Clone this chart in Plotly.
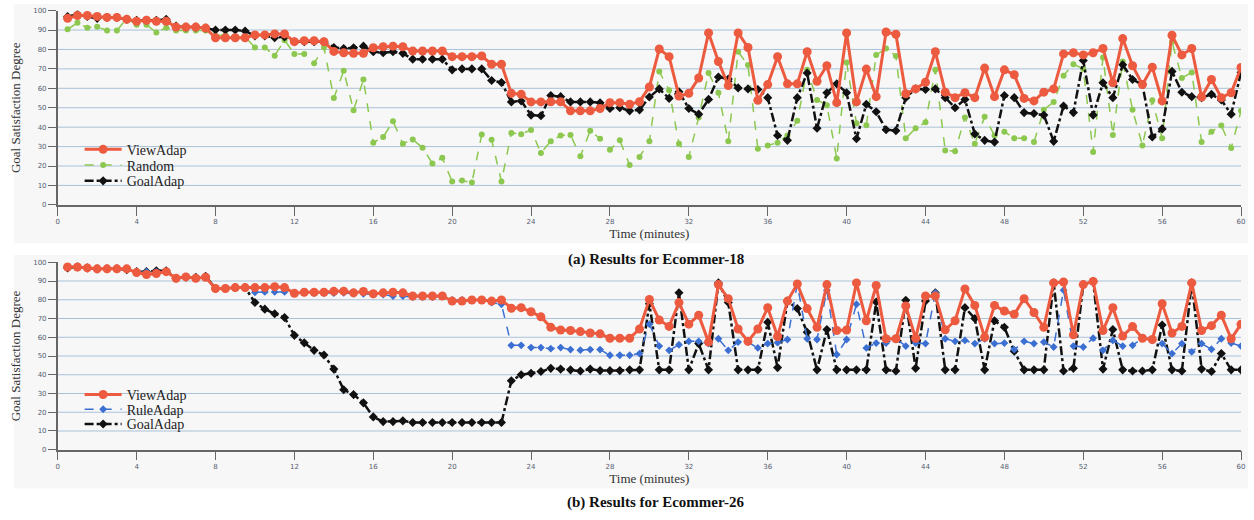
import plotly.graph_objects as go

# sample times (minutes)
time = [0.5 * k for k in range(1, 121)]

# (a) Ecommer-18
view18 = [96, 97.5, 97.5, 97, 96.5, 96.5, 95.5, 94.5, 95, 94.5,
          94.5, 91.5, 91.5, 91.5, 91, 86, 86, 86, 86, 87.5,
          87.5, 88, 88, 84, 84.5, 84.5, 84, 79, 78.3, 78,
          78, 80.9, 81.4, 81.7, 81.4, 79.2, 79.2, 79.2, 79.2, 76.3,
          76.3, 76.3, 76.6, 72.4, 72.4, 57.4, 56.9, 53, 53, 53.1,
          53.1, 48.4, 48.4, 48.4, 49.6, 52.6, 52.6, 51.8, 53.1, 60.7,
          80.2, 76.3, 56, 57.4, 65.3, 88.5, 73.8, 61.4, 88.5, 81,
          53.8, 61.9, 76.3, 62.3, 62.3, 78.8, 63.6, 71.6, 52.6, 88.5,
          53, 69.9, 55.7, 89, 87.8, 57.2, 59.7, 63.1, 78.8, 58,
          55.2, 57.7, 55.2, 70.4, 55.7, 69.5, 67, 54.8, 53.5, 58,
          59.7, 77.7, 78.3, 77.2, 78.3, 80.5, 62.8, 85.6, 71.6, 61.9,
          70.9, 53.5, 87.3, 77.2, 80.5, 55.5, 64.5, 55.2, 57.7, 70.7]
random18 = [90.4, 93.7, 91.2, 91.7, 89.8, 89.8, 95.8, 92.7, 92.7, 88.7,
            91.2, 89.8, 89.8, 89.8, 89.8, 87, 87.5, 86.6, 86.5, 81,
            81, 76.8, 84.8, 77.7, 77.7, 72.9, 81, 55, 69, 48.7,
            64.5, 32, 34.9, 43, 31.5, 33.7, 29.4, 21.3, 24.2, 12,
            12.5, 11.5, 36.2, 33.5, 12, 37, 36.4, 38.6, 26.7, 32.8,
            35.7, 36, 25, 38.2, 34, 28.4, 33.2, 20.5, 24.7, 32.7,
            68.7, 59, 31.5, 24.7, 45, 67.9, 57.7, 32.7, 78.8, 72,
            28.9, 30.6, 32, 35.7, 43.3, 69.5, 54, 51.3, 23.9, 73.3,
            42, 41, 77.2, 80.5, 76.6, 34.3, 39.4, 42.5, 69.5, 28,
            27.6, 45, 31.5, 45.3, 35.7, 37.7, 34.3, 34.3, 32.3, 48.9,
            53, 66.5, 72.4, 70, 27.2, 75.8, 36, 73.8, 48.9, 30.6,
            53.8, 34.3, 83.9, 65.3, 68.2, 32.3, 37.7, 40.8, 29.3, 48.4]
goal18 = [97, 98, 97, 96, 96.5, 96.5, 95.5, 95, 95, 95,
          95.5, 92, 91.5, 91.5, 91, 90, 90, 90, 89.5, 87,
          87, 86, 86.5, 84, 84, 84, 84, 81, 80.5, 80.9,
          81.7, 78.8, 78.3, 78.8, 78, 75, 75, 75, 75, 69.5,
          70, 70, 70, 64, 63, 53, 53.5, 46.2, 45.9, 56.3,
          55.7, 53, 53, 53, 52.6, 49.6, 50, 48.4, 48.9, 55.5,
          59.7, 54.8, 58.2, 49.6, 46.7, 54.3, 65.8, 64.8, 60.2, 59.7,
          59.4, 55.2, 35.7, 33.2, 55.2, 67.9, 39.4, 57.7, 62.3, 57.7,
          34, 51.8, 47.9, 38.7, 38.2, 55.2, 59.7, 59.4, 59.7, 55.2,
          50, 54.3, 36.5, 33.2, 32.3, 56.3, 55.2, 47.5, 47, 46.2,
          32.7, 50.9, 47.5, 74.3, 46.2, 62.8, 55.2, 72.1, 64.5, 61.9,
          34.9, 39.1, 68.7, 58, 55.7, 55.2, 56.9, 54, 46.7, 68.2]

# (b) Ecommer-26
view26 = [97.5, 97.5, 97, 96.5, 96.5, 96.5, 96.5, 94.5, 93.5, 94,
          95, 91.5, 92.2, 91.5, 92, 86, 86, 86.5, 86.5, 86.5,
          86.5, 87, 86.5, 83.5, 84, 84, 84, 84.5, 84.6, 83.7,
          84.4, 83.2, 83.7, 84, 83.7, 82, 82, 82, 82, 79.3,
          79.3, 79.9, 79.9, 79.3, 79.9, 75.5, 75.8, 73.6, 70.9, 65.3,
          63.9, 63.6, 63, 62.3, 61.8, 59.5, 59.5, 59.5, 64.4, 80.2,
          69.2, 65.8, 78.5, 67, 71.8, 57.4, 88.1, 80.6, 64.4, 57.8,
          64.4, 75.8, 60.4, 79.3, 88.4, 75.3, 65.3, 88.1, 63.6, 63.9,
          89, 68.8, 87.6, 59.2, 59.2, 76.7, 59.5, 82, 82, 64,
          68.8, 85.8, 77, 60, 77, 74, 72.3, 80.6, 73.2, 65.3,
          89, 89.5, 61.3, 88.1, 89.8, 63.6, 75.8, 60.6, 65.7, 59.5,
          58.8, 77.9, 62.3, 65.8, 89, 63.6, 66.2, 71.8, 59.2, 67]
rule26 = [97.5, 98, 97, 96, 96.5, 96.5, 96.5, 94.5, 95, 95,
          95, 91.5, 92, 92, 92, 86, 86, 86.5, 86.5, 84,
          84.2, 84.2, 84.2, 83.5, 84, 83.5, 83.5, 83.5, 83.7, 83.2,
          83.2, 82.8, 82.8, 82, 82, 81.4, 81.4, 81.4, 82, 79.9,
          79.9, 79.9, 79.9, 78.5, 77.6, 55.7, 55.7, 54.5, 54.5, 53.9,
          54.5, 53.4, 53.1, 53.4, 53.4, 50.4, 50.4, 50.4, 51.3, 67,
          55.3, 53, 56, 57.8, 57.8, 56.6, 59.2, 53, 57.4, 57.4,
          54.3, 56.6, 57.1, 58.8, 88.4, 59.2, 58.8, 85.1, 50.8, 58.8,
          77.6, 54.3, 56.9, 56.9, 59.2, 55.3, 56.9, 56.6, 83.7, 59.2,
          57.8, 58.3, 56.6, 59.2, 56.6, 56.9, 53.4, 57.8, 56.6, 57.4,
          54.8, 85.1, 55.3, 54.8, 59.5, 53, 58.3, 55.3, 55.7, 59.5,
          58.3, 56.6, 51.3, 56.6, 52.2, 56.6, 53.6, 59.2, 56.9, 55.3]
goal26 = [97, 97.5, 97, 96.5, 96.5, 96.5, 96, 95, 95, 95.5,
          95.5, 91.5, 92, 92, 92.5, 86, 86, 86.5, 86.5, 78.5,
          75, 72.5, 70.5, 61, 57, 53, 50.5, 43, 32, 29.4,
          25, 17.5, 15, 15, 15.4, 14.5, 14.5, 14.5, 14.5, 14.5,
          14.5, 14.5, 14.5, 14.5, 14.5, 36.8, 40, 40.8, 41.7, 43.4,
          43, 42.6, 42, 43, 42.2, 42.2, 42.2, 42.6, 42.6, 77.9,
          42.6, 42.6, 83.7, 42.6, 56.6, 42.6, 89, 78.5, 42.6, 42.6,
          42.6, 68, 43.8, 79.3, 75.3, 62.7, 42.6, 64.1, 42.6, 42.6,
          42.6, 42.6, 78.8, 42.6, 42, 79.7, 43.4, 79.3, 83.7, 42.6,
          42.6, 75.8, 70, 42.6, 68.8, 65.3, 52.5, 42.6, 42.6, 42.6,
          89, 42, 43.4, 88.1, 89.8, 43, 64.1, 42.6, 42, 42,
          42.6, 66.5, 42.6, 42, 89, 43, 41.7, 51.3, 42.6, 42.6]

x_ticks = list(range(0, 61, 4))
y_ticks = list(range(0, 101, 10))
grid_vals = list(range(10, 100, 10))

RED = "#ec5a3f"
GREEN = "#8cc84f"
BLUE = "#3b6fd2"
BLACK = "#111111"
SERIF = "Liberation Serif"

W, H = 1254, 520
def px_x(p): return p / W
def px_y(p): return 1 - p / H

fig = go.Figure()

def add(x, y, name, color, width, dash, symbol, size, xa, ya, legend):
    fig.add_trace(go.Scatter(
        x=x, y=y, name=name, mode="lines+markers", xaxis=xa, yaxis=ya, legend=legend,
        showlegend=True,
        line=dict(color=color, width=width, dash=dash),
        marker=dict(color=color, size=size, symbol=symbol, line=dict(width=0))))

add(time, random18, "Random", GREEN, 1.5, "dash", "circle", 6, "x", "y", "legend2")
add(time, goal18, "GoalAdap", BLACK, 2.5, "dashdot", "diamond", 7, "x", "y", "legend3")
add(time, view18, "ViewAdap", RED, 3, "solid", "circle", 9, "x", "y", "legend")

add(time, goal26, "GoalAdap", BLACK, 2.5, "dashdot", "diamond", 7, "x2", "y2", "legend6")
add(time, rule26, "RuleAdap", BLUE, 1.5, "dash", "diamond", 6, "x2", "y2", "legend5")
add(time, view26, "ViewAdap", RED, 3, "solid", "circle", 9, "x2", "y2", "legend4")

xdom = [px_x(56), px_x(1245)]
tickfont = dict(family="DejaVu Sans", size=7, color="#556070")
titlefont = dict(family=SERIF, size=13, color="#333333")

common_x = dict(range=[0, 60], tickvals=x_ticks, ticks="outside", ticklen=9, tickcolor="#666",
                showline=True, linecolor="#666", linewidth=1.5, showgrid=False, zeroline=False,
                tickfont=tickfont, domain=xdom,
                title=dict(text="Time (minutes)", font=titlefont, standoff=1))
common_y = dict(range=[0, 100], tickvals=y_ticks, ticks="outside", ticklen=8, tickcolor="#666",
                showline=True, linecolor="#666", linewidth=1.5, showgrid=False, zeroline=False,
                tickfont=tickfont,
                title=dict(text="Goal Satisfaction Degree", font=titlefont, standoff=10))

def leg(ypx):
    return dict(font=dict(family=SERIF, size=14, color="#222"), bgcolor="rgba(0,0,0,0)",
                x=px_x(78), y=px_y(ypx), xanchor="left", yanchor="middle",
                itemwidth=37, borderwidth=0)

fig.update_layout(
    width=W, height=H,
    margin=dict(l=0, r=0, t=0, b=0),
    showlegend=True,
    paper_bgcolor="white", plot_bgcolor="rgba(0,0,0,0)",
    xaxis=dict(anchor="y", **common_x),
    yaxis=dict(anchor="x", domain=[px_y(204), px_y(6.7)], **common_y),
    xaxis2=dict(anchor="y2", **common_x),
    yaxis2=dict(anchor="x2", domain=[px_y(452.7), px_y(262.3)], **common_y),
    legend=leg(148), legend2=leg(164), legend3=leg(180),
    legend4=leg(397), legend5=leg(412), legend6=leg(427),
)

shapes = [
    dict(type="rect", xref="paper", yref="paper", x0=px_x(12), x1=px_x(1252), y0=px_y(243), y1=1,
         fillcolor="#f7f7f7", line=dict(width=0), layer="below"),
    dict(type="rect", xref="paper", yref="paper", x0=px_x(12), x1=px_x(1252), y0=px_y(492), y1=px_y(255),
         fillcolor="#f7f7f7", line=dict(width=0), layer="below"),
]
for ya, xa in (("y", "x"), ("y2", "x2")):
    for v in grid_vals:
        shapes.append(dict(type="line", xref=f"{xa} domain", yref=ya, x0=0, x1=1, y0=v, y1=v,
                           line=dict(color="#a9c1d8", width=1), layer="below"))
fig.update_layout(shapes=shapes)

fig.add_annotation(text="<b>(a) Results for Ecommer-18</b>", xref="paper", yref="paper",
                   x=px_x(657), y=px_y(259), showarrow=False, yanchor="middle", xanchor="center",
                   font=dict(family=SERIF, size=15, color="#111"))
fig.add_annotation(text="<b>(b) Results for Ecommer-26</b>", xref="paper", yref="paper",
                   x=px_x(657), y=px_y(506), showarrow=False, yanchor="middle", xanchor="center",
                   font=dict(family=SERIF, size=15, color="#111"))

fig.write_html("out.html", config={"displayModeBar": False},
               post_script="document.body.style.margin='0';document.body.style.overflow='hidden';")
